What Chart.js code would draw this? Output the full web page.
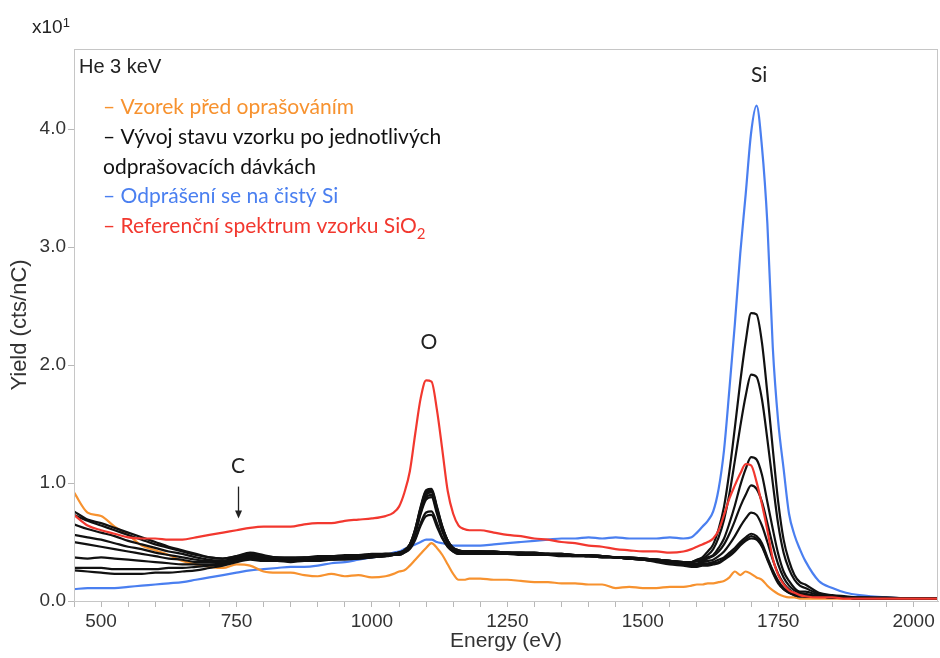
<!DOCTYPE html>
<html>
<head>
<meta charset="utf-8">
<script src="https://cdn.jsdelivr.net/npm/chart.js@4.4.1/dist/chart.umd.min.js"></script>
<style>
  html, body { margin: 0; padding: 0; background: #fff; }
  #wrap { width: 940px; height: 658px; }
</style>
</head>
<body>
<div id="wrap"><canvas id="chart"></canvas></div>
<script>
// energy grid (eV), shared by all spectra
const energy = [
  450, 475, 500, 525, 550, 575, 600, 625, 650, 675, 700, 725, 750, 775, 800, 825, 850, 875, 900, 925, 950, 975, 1000, 1025,
  1040, 1050, 1060, 1070, 1080, 1090, 1100, 1110, 1120, 1130, 1140, 1150, 1160, 1170, 1180,
  1200, 1225, 1250, 1275, 1300, 1325, 1350, 1375, 1400, 1425, 1450, 1475, 1500, 1525, 1550, 1575,
  1590, 1600, 1610, 1620, 1630, 1640, 1650, 1660, 1670, 1680, 1690, 1700, 1710, 1720, 1730, 1740, 1750, 1760, 1770, 1780, 1790, 1800,
  1825, 1850, 1875, 1900, 1950, 2000, 2045
];

// Vzorek před oprašováním
const predOprasovanim = [
  0.92, 0.75, 0.72, 0.63, 0.56, 0.47, 0.43, 0.39, 0.34, 0.31, 0.29, 0.28, 0.31, 0.30, 0.25, 0.24, 0.24, 0.22, 0.21, 0.23, 0.21, 0.22, 0.20, 0.21,
  0.23, 0.25, 0.26, 0.30, 0.35, 0.40, 0.45, 0.49, 0.45, 0.39, 0.31, 0.23, 0.18, 0.18, 0.19,
  0.19, 0.18, 0.18, 0.17, 0.16, 0.16, 0.15, 0.15, 0.14, 0.14, 0.11, 0.12, 0.11, 0.11, 0.12, 0.12,
  0.13, 0.14, 0.14, 0.15, 0.15, 0.16, 0.17, 0.20, 0.25, 0.22, 0.25, 0.23, 0.20, 0.18, 0.13, 0.09, 0.06, 0.04, 0.03, 0.03, 0.02, 0.02,
  0.02, 0.02, 0.02, 0.02, 0.02, 0.02, 0.02
];

// Vývoj stavu vzorku po jednotlivých odprašovacích dávkách
const davka1 = [
  0.76, 0.69, 0.66, 0.62, 0.58, 0.54, 0.50, 0.46, 0.43, 0.40, 0.37, 0.36, 0.38, 0.40, 0.38, 0.37, 0.36, 0.37, 0.37, 0.38, 0.38, 0.39, 0.39, 0.40,
  0.40, 0.41, 0.43, 0.48, 0.61, 0.80, 0.94, 0.95, 0.80, 0.63, 0.51, 0.45, 0.43, 0.42, 0.42,
  0.42, 0.42, 0.41, 0.41, 0.41, 0.40, 0.40, 0.39, 0.39, 0.38, 0.37, 0.36, 0.35, 0.33, 0.31, 0.30,
  0.29, 0.29, 0.30, 0.30, 0.31, 0.32, 0.35, 0.38, 0.42, 0.47, 0.51, 0.53, 0.52, 0.46, 0.35, 0.24, 0.15, 0.10, 0.07, 0.05, 0.04, 0.04,
  0.04, 0.03, 0.03, 0.02, 0.02, 0.02, 0.02
];
const davka2 = [
  0.73, 0.68, 0.64, 0.60, 0.56, 0.52, 0.48, 0.45, 0.42, 0.39, 0.37, 0.36, 0.38, 0.41, 0.39, 0.37, 0.37, 0.37, 0.38, 0.38, 0.39, 0.39, 0.40, 0.40,
  0.40, 0.41, 0.43, 0.48, 0.61, 0.79, 0.93, 0.94, 0.79, 0.63, 0.51, 0.45, 0.43, 0.42, 0.42,
  0.42, 0.42, 0.41, 0.41, 0.41, 0.40, 0.40, 0.39, 0.39, 0.38, 0.37, 0.36, 0.35, 0.34, 0.32, 0.31,
  0.30, 0.30, 0.31, 0.31, 0.32, 0.33, 0.36, 0.39, 0.43, 0.48, 0.52, 0.55, 0.53, 0.47, 0.36, 0.25, 0.16, 0.10, 0.07, 0.05, 0.04, 0.04,
  0.04, 0.03, 0.03, 0.02, 0.02, 0.02, 0.02
];
const davka3 = [
  0.65, 0.61, 0.58, 0.55, 0.51, 0.48, 0.45, 0.42, 0.40, 0.37, 0.35, 0.34, 0.37, 0.40, 0.38, 0.36, 0.36, 0.36, 0.37, 0.37, 0.38, 0.38, 0.39, 0.40,
  0.40, 0.41, 0.43, 0.48, 0.60, 0.78, 0.92, 0.93, 0.78, 0.62, 0.51, 0.44, 0.42, 0.42, 0.42,
  0.42, 0.41, 0.41, 0.41, 0.40, 0.40, 0.40, 0.39, 0.39, 0.38, 0.37, 0.36, 0.35, 0.34, 0.32, 0.31,
  0.31, 0.31, 0.32, 0.32, 0.33, 0.35, 0.37, 0.41, 0.45, 0.50, 0.54, 0.57, 0.55, 0.49, 0.37, 0.26, 0.17, 0.11, 0.08, 0.06, 0.05, 0.04,
  0.04, 0.03, 0.03, 0.02, 0.02, 0.02, 0.02
];
const davka4 = [
  0.56, 0.54, 0.52, 0.49, 0.46, 0.44, 0.41, 0.39, 0.37, 0.35, 0.34, 0.34, 0.37, 0.39, 0.37, 0.36, 0.35, 0.36, 0.36, 0.37, 0.37, 0.38, 0.38, 0.39,
  0.39, 0.40, 0.42, 0.47, 0.59, 0.77, 0.90, 0.92, 0.77, 0.61, 0.50, 0.44, 0.42, 0.41, 0.41,
  0.41, 0.41, 0.41, 0.40, 0.40, 0.40, 0.39, 0.39, 0.38, 0.38, 0.37, 0.36, 0.35, 0.34, 0.33, 0.32,
  0.32, 0.32, 0.33, 0.34, 0.35, 0.38, 0.42, 0.48, 0.55, 0.63, 0.70, 0.75, 0.73, 0.64, 0.50, 0.35, 0.23, 0.15, 0.10, 0.07, 0.06, 0.05,
  0.04, 0.03, 0.03, 0.02, 0.02, 0.02, 0.02
];
const davka5 = [
  0.50, 0.48, 0.46, 0.44, 0.42, 0.40, 0.38, 0.36, 0.35, 0.33, 0.33, 0.33, 0.36, 0.38, 0.36, 0.35, 0.35, 0.35, 0.36, 0.36, 0.37, 0.37, 0.38, 0.39,
  0.39, 0.40, 0.42, 0.47, 0.58, 0.75, 0.88, 0.90, 0.76, 0.60, 0.49, 0.44, 0.41, 0.41, 0.41,
  0.41, 0.41, 0.41, 0.40, 0.40, 0.40, 0.39, 0.39, 0.38, 0.38, 0.37, 0.37, 0.36, 0.35, 0.34, 0.33,
  0.33, 0.34, 0.34, 0.36, 0.38, 0.42, 0.48, 0.57, 0.68, 0.80, 0.90, 0.98, 0.95, 0.84, 0.66, 0.47, 0.31, 0.20, 0.13, 0.09, 0.07, 0.06,
  0.04, 0.03, 0.03, 0.02, 0.02, 0.02, 0.02
];
const davka6 = [
  0.37, 0.36, 0.37, 0.36, 0.35, 0.34, 0.33, 0.32, 0.31, 0.31, 0.31, 0.32, 0.35, 0.37, 0.36, 0.35, 0.34, 0.35, 0.35, 0.36, 0.36, 0.37, 0.38, 0.38,
  0.39, 0.40, 0.42, 0.46, 0.57, 0.74, 0.86, 0.88, 0.74, 0.59, 0.49, 0.43, 0.41, 0.41, 0.41,
  0.41, 0.41, 0.40, 0.40, 0.40, 0.39, 0.39, 0.39, 0.38, 0.38, 0.37, 0.37, 0.36, 0.35, 0.34, 0.33,
  0.33, 0.34, 0.35, 0.37, 0.39, 0.45, 0.53, 0.66, 0.81, 0.98, 1.12, 1.22, 1.20, 1.07, 0.84, 0.61, 0.40, 0.25, 0.17, 0.11, 0.08, 0.08,
  0.05, 0.04, 0.03, 0.02, 0.02, 0.02, 0.02
];
const davka7 = [
  0.28, 0.28, 0.28, 0.27, 0.27, 0.27, 0.27, 0.28, 0.28, 0.29, 0.30, 0.31, 0.34, 0.36, 0.35, 0.34, 0.34, 0.34, 0.35, 0.35, 0.36, 0.36, 0.37, 0.38,
  0.39, 0.39, 0.41, 0.45, 0.53, 0.66, 0.75, 0.76, 0.66, 0.54, 0.46, 0.42, 0.40, 0.40, 0.40,
  0.40, 0.40, 0.40, 0.40, 0.39, 0.39, 0.39, 0.38, 0.38, 0.37, 0.37, 0.36, 0.36, 0.35, 0.34, 0.33,
  0.33, 0.35, 0.36, 0.39, 0.44, 0.54, 0.69, 0.91, 1.19, 1.48, 1.74, 1.92, 1.90, 1.71, 1.37, 1.00, 0.65, 0.41, 0.27, 0.18, 0.13, 0.11,
  0.06, 0.04, 0.03, 0.03, 0.02, 0.02, 0.02
];
const davka8 = [
  0.26, 0.25, 0.24, 0.23, 0.23, 0.23, 0.24, 0.24, 0.25, 0.26, 0.28, 0.30, 0.33, 0.35, 0.34, 0.34, 0.33, 0.34, 0.34, 0.35, 0.35, 0.36, 0.37, 0.38,
  0.39, 0.39, 0.41, 0.44, 0.52, 0.64, 0.72, 0.73, 0.63, 0.53, 0.46, 0.42, 0.40, 0.40, 0.40,
  0.40, 0.40, 0.40, 0.39, 0.39, 0.39, 0.38, 0.38, 0.38, 0.37, 0.37, 0.36, 0.36, 0.35, 0.34, 0.33,
  0.33, 0.35, 0.37, 0.42, 0.48, 0.61, 0.80, 1.10, 1.47, 1.86, 2.20, 2.44, 2.43, 2.19, 1.76, 1.29, 0.84, 0.52, 0.34, 0.22, 0.16, 0.14,
  0.07, 0.05, 0.04, 0.03, 0.03, 0.02, 0.02
];

// Odprášení se na čistý Si
const cistySi = [
  0.10, 0.11, 0.11, 0.11, 0.12, 0.13, 0.14, 0.15, 0.16, 0.18, 0.20, 0.22, 0.24, 0.26, 0.27, 0.28, 0.29, 0.29, 0.30, 0.32, 0.33, 0.35, 0.37, 0.39,
  0.41, 0.42, 0.44, 0.46, 0.48, 0.50, 0.52, 0.52, 0.50, 0.49, 0.48, 0.47, 0.47, 0.47, 0.47,
  0.47, 0.48, 0.49, 0.50, 0.51, 0.52, 0.53, 0.53, 0.54, 0.53, 0.54, 0.53, 0.53, 0.53, 0.54, 0.53,
  0.54, 0.58, 0.63, 0.68, 0.76, 0.95, 1.28, 1.80, 2.35, 2.95, 3.45, 3.97, 4.20, 3.85, 3.20, 2.15, 1.52, 1.12, 0.74, 0.56, 0.44, 0.34,
  0.17, 0.11, 0.07, 0.05, 0.03, 0.02, 0.02
];

// Referenční spektrum vzorku SiO2
const referenceSiO2 = [
  0.73, 0.64, 0.60, 0.57, 0.54, 0.53, 0.53, 0.52, 0.52, 0.54, 0.56, 0.58, 0.60, 0.62, 0.63, 0.63, 0.63, 0.65, 0.66, 0.66, 0.68, 0.69, 0.70, 0.72,
  0.75, 0.80, 0.92, 1.10, 1.42, 1.72, 1.87, 1.86, 1.62, 1.28, 0.93, 0.74, 0.64, 0.61, 0.60,
  0.60, 0.58, 0.56, 0.55, 0.53, 0.52, 0.50, 0.49, 0.47, 0.46, 0.44, 0.43, 0.42, 0.42, 0.41, 0.42,
  0.44, 0.46, 0.48, 0.50, 0.53, 0.60, 0.73, 0.87, 0.98, 1.08, 1.16, 1.15, 1.01, 0.82, 0.60, 0.36, 0.22, 0.14, 0.09, 0.07, 0.05, 0.04,
  0.03, 0.03, 0.02, 0.02, 0.02, 0.02, 0.02
];

const xTickLabels = [500, 750, 1000, 1250, 1500, 1750, 2000];
const yTickLabels = [0, 1, 2, 3, 4];

const ORANGE = "#f7922f";
const BLACK = "#111111";
const BLUE = "#4a7ff0";
const RED = "#f2382f";

function pts(values) {
  return energy.map((e, i) => ({ x: e, y: values[i] }));
}

function line(values, color, order) {
  return {
    data: pts(values),
    borderColor: color,
    borderWidth: 2.2,
    pointRadius: 0,
    fill: false,
    cubicInterpolationMode: "monotone",
    order: order
  };
}

const blackRuns = [davka1, davka2, davka3, davka4, davka5, davka6, davka7, davka8];

const datasets = [line(referenceSiO2, RED, 0)]
  .concat(blackRuns.map(d => line(d, BLACK, 1)))
  .concat([line(predOprasovanim, ORANGE, 2), line(cistySi, BLUE, 3)]);

const textPlugin = {
  id: "textPlugin",
  afterDraw(chart) {
    const { ctx, chartArea: a, scales: { x, y } } = chart;
    ctx.save();
    ctx.strokeStyle = "#c6c6c6";
    ctx.lineWidth = 1;
    ctx.strokeRect(a.left + 0.5, a.top + 0.5, a.right - a.left - 1, a.bottom - a.top);

    ctx.textBaseline = "middle";
    ctx.textAlign = "left";
    ctx.fillStyle = "#222";
    ctx.font = "19px 'Liberation Sans', Arial, sans-serif";
    ctx.fillText("x10", 32, 28);
    let w = ctx.measureText("x10").width;
    ctx.font = "13px 'Liberation Sans', Arial, sans-serif";
    ctx.fillText("1", 32 + w, 23);

    ctx.font = "20px 'Liberation Sans', Arial, sans-serif";
    ctx.fillText("He 3 keV", a.left + 5, a.top + 18);

    const legend = [
      ["– Vzorek před oprašováním", ORANGE, 107],
      ["– Vývoj stavu vzorku po jednotlivých", BLACK, 137],
      ["odprašovacích dávkách", BLACK, 167],
      ["– Odprášení se na čistý Si", BLUE, 196],
      ["– Referenční spektrum vzorku SiO", RED, 226]
    ];
    ctx.font = "21px Lato, sans-serif";
    legend.forEach(([t, c, yy]) => {
      ctx.fillStyle = c;
      ctx.fillText(t, 103, yy);
    });
    w = ctx.measureText(legend[4][0]).width;
    ctx.font = "15px Lato, sans-serif";
    ctx.fillStyle = RED;
    ctx.fillText("2", 103 + w, 234);

    // peak labels
    ctx.fillStyle = "#222";
    ctx.textAlign = "center";
    ctx.font = "21px Lato, sans-serif";
    ctx.fillText("Si", x.getPixelForValue(1715), y.getPixelForValue(4.46));
    ctx.fillText("O", x.getPixelForValue(1105), y.getPixelForValue(2.19));
    ctx.fillText("C", x.getPixelForValue(753), y.getPixelForValue(1.14));

    // arrow for C
    const ax = Math.round(x.getPixelForValue(753)) + 0.5;
    const ay0 = y.getPixelForValue(0.97);
    const ay1 = y.getPixelForValue(0.70);
    ctx.strokeStyle = "#222";
    ctx.lineWidth = 1.3;
    ctx.beginPath();
    ctx.moveTo(ax, ay0);
    ctx.lineTo(ax, ay1 - 3);
    ctx.stroke();
    ctx.fillStyle = "#222";
    ctx.beginPath();
    ctx.moveTo(ax - 3.5, ay1 - 8);
    ctx.lineTo(ax + 3.5, ay1 - 8);
    ctx.lineTo(ax, ay1);
    ctx.closePath();
    ctx.fill();
    ctx.restore();
  }
};

new Chart(document.getElementById("chart"), {
  type: "line",
  data: { datasets: datasets },
  options: {
    responsive: true,
    maintainAspectRatio: false,
    animation: false,
    layout: { padding: { top: 49, right: 2, left: 0, bottom: 0 } },
    plugins: { legend: { display: false }, tooltip: { enabled: false } },
    scales: {
      x: {
        type: "linear",
        min: 450,
        max: 2045,
        afterFit: s => { s.height = 57; },
        ticks: {
          stepSize: 50,
          includeBounds: false,
          autoSkip: false,
          maxRotation: 0,
          padding: 3,
          color: "#333",
          font: { family: "'Liberation Sans', Arial, sans-serif", size: 19 },
          callback: v => xTickLabels.includes(v) ? String(v) : ""
        },
        grid: { display: true, drawOnChartArea: false, tickLength: 6, color: "#b8b8b8" },
        border: { display: true, color: "#c6c6c6" },
        title: {
          display: true,
          text: "Energy (eV)",
          color: "#333",
          padding: { top: 0, bottom: 4 },
          font: { family: "'Liberation Sans', Arial, sans-serif", size: 21 }
        }
      },
      y: {
        min: 0,
        max: 4.68,
        afterFit: s => { s.width = 74; },
        ticks: {
          stepSize: 1,
          includeBounds: false,
          padding: 2,
          color: "#333",
          font: { family: "'Liberation Sans', Arial, sans-serif", size: 19 },
          callback: v => yTickLabels.includes(v) ? v.toFixed(1) : ""
        },
        grid: { display: true, drawOnChartArea: false, tickLength: 6, color: "#b8b8b8" },
        border: { display: true, color: "#c6c6c6" },
        title: {
          display: true,
          text: "Yield (cts/nC)",
          color: "#333",
          padding: { top: 7, bottom: 0 },
          font: { family: "'Liberation Sans', Arial, sans-serif", size: 22 }
        }
      }
    }
  },
  plugins: [textPlugin]
});
</script>
</body>
</html>
